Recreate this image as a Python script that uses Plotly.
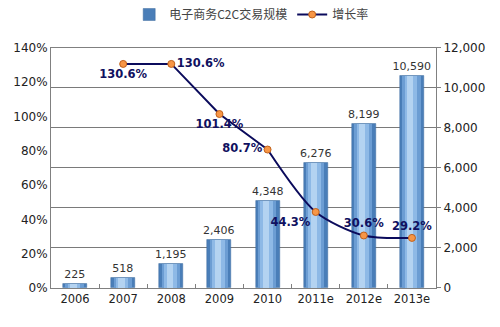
import plotly.graph_objects as go

years = ["2006", "2007", "2008", "2009", "2010", "2011e", "2012e", "2013e"]
volume = [225, 518, 1195, 2406, 4348, 6276, 8199, 10590]
rate_years = ["2007", "2008", "2009", "2010", "2011e", "2012e", "2013e"]
rate = [130.6, 130.6, 101.4, 80.7, 44.3, 30.6, 29.2]
rate_pos = ["bottom center", "middle right", "bottom center", "middle left",
            "bottom left", "top center", "top center"]

fig = go.Figure()

# Cylinder-like bars: stack of overlaid bars of decreasing width
fig.add_trace(go.Bar(x=years, y=volume, width=0.5, offset=-0.25,
                     marker=dict(color="#4A7EB8", line=dict(color="#3F6D9E", width=0.5)),
                     name="电子商务C2C交易规模", yaxis="y",
                     text=[f"{v:,}" for v in volume], textposition="outside",
                     constraintext="none",
                     textfont=dict(family="DejaVu Sans", size=11, color="#333333"),
                     cliponaxis=False))
for w, off, c in [(0.38, -0.2, "#6C9DD3"), (0.26, -0.15, "#8EB9E6"), (0.13, -0.1, "#B4D3F1")]:
    fig.add_trace(go.Bar(x=years, y=volume, width=w, offset=off,
                         marker=dict(color=c, line=dict(width=0)),
                         showlegend=False, hoverinfo="skip", yaxis="y"))

line_style = dict(color="#0B0B5C", width=2)
marker_style = dict(color="#F79646", size=7, line=dict(color="#C0601A", width=1))
label_font = dict(family="DejaVu Sans", size=11.5, color="#101060", weight="bold")

# straight part of the growth line
fig.add_trace(go.Scatter(x=rate_years[:4], y=rate[:4], mode="lines", yaxis="y2",
                         line=line_style, showlegend=False, hoverinfo="skip"))
# smooth tail
fig.add_trace(go.Scatter(x=rate_years[3:], y=rate[3:], mode="lines", yaxis="y2",
                         line=dict(shape="spline", smoothing=0.8, **line_style),
                         showlegend=False, hoverinfo="skip"))
fig.add_trace(go.Scatter(x=rate_years, y=rate, mode="markers+text",
                         yaxis="y2", marker=marker_style, showlegend=False,
                         text=[f"{v}%" for v in rate], textposition=rate_pos,
                         textfont=label_font, cliponaxis=False))
# legend entry for the growth line
fig.add_trace(go.Scatter(x=[None], y=[None], mode="lines+markers", name="增长率",
                         yaxis="y2", line=line_style, marker=marker_style))

fig.update_layout(
    width=500, height=327,
    margin=dict(l=51, r=64, t=40, b=39),
    paper_bgcolor="white", plot_bgcolor="white",
    barmode="overlay",
    bargap=0,
    showlegend=True,
    legend=dict(orientation="h", x=0.52, y=1.0, xref="paper", yref="container",
                xanchor="center", yanchor="top",
                font=dict(family="Noto Sans CJK SC", size=12, color="#444444"),
                traceorder="normal", itemwidth=30),
    font=dict(family="DejaVu Sans", size=12, color="#222222"),
    xaxis=dict(type="category", categoryorder="array", categoryarray=years,
               showline=True, linecolor="#808080", linewidth=1, mirror=True,
               ticks="inside", tickson="boundaries", ticklen=4, tickcolor="#808080",
               tickfont=dict(size=11.5, color="#222222"), showgrid=False),
    yaxis=dict(side="right", range=[0, 12000], dtick=2000, tickformat=",",
               showgrid=True, gridcolor="#7A7A7A", gridwidth=1,
               showline=True, linecolor="#808080", ticks="outside", ticklen=4,
               tickcolor="#808080", tickfont=dict(size=12, color="#222222"), zeroline=False),
    yaxis2=dict(side="left", overlaying="y", range=[0, 140], dtick=20, ticksuffix="%",
                showgrid=False, showline=True, linecolor="#808080", ticks="",
                tickfont=dict(size=12, color="#222222"), zeroline=False),
)

fig.write_html("out.html")
